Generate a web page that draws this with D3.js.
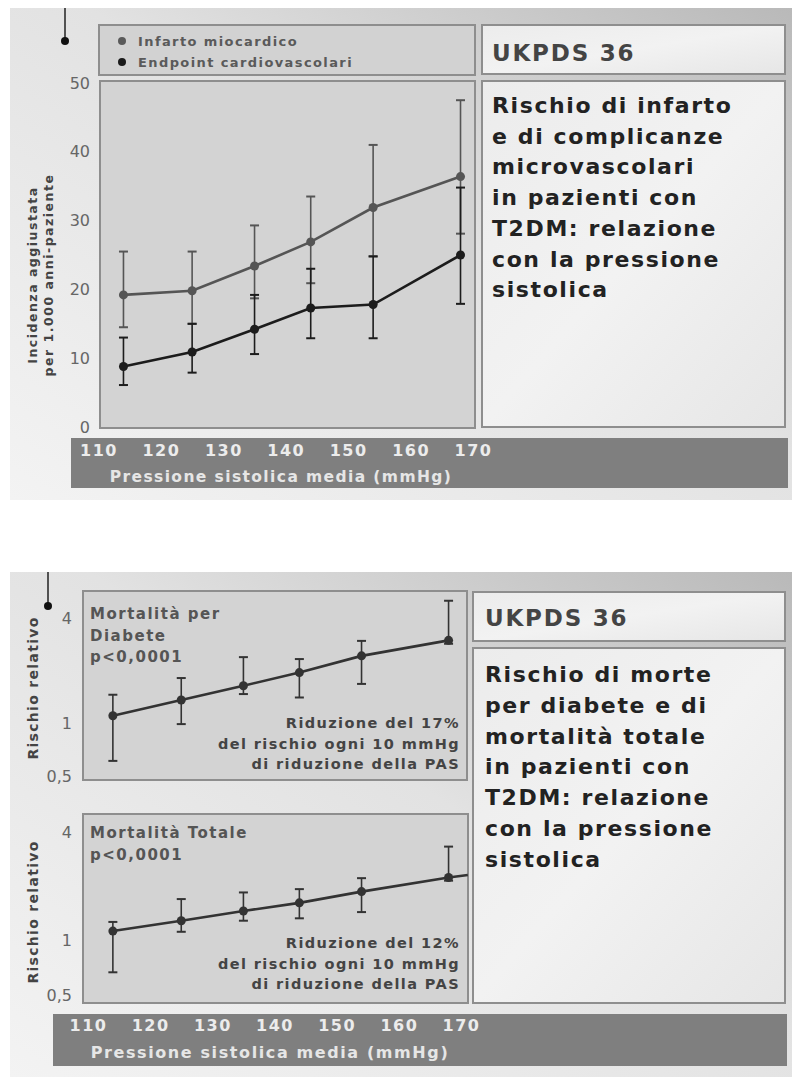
<!DOCTYPE html>
<html>
<head>
<meta charset="utf-8">
<script src="https://cdn.jsdelivr.net/npm/d3@7"></script>
<style>
  body { margin: 0; background: #fff; }
  svg { display: block; font-family: "DejaVu Sans", Verdana, sans-serif; }
</style>
</head>
<body>
<svg id="chart" width="792" height="1077"></svg>
<script>
// ---------------- DATA ----------------
const sbpMeans = [114, 125, 135, 144, 154, 168];
const xTicks = [110, 120, 130, 140, 150, 160, 170];
const yTicksTop = [0, 10, 20, 30, 40, 50];

const seriesNames = ["Infarto miocardico", "Endpoint cardiovascolari"];
const infartoVal = [19.2, 19.8, 23.4, 26.9, 31.9, 36.4];
const infartoLo  = [14.5, 15.0, 18.7, 20.9, 24.8, 28.1];
const infartoHi  = [25.5, 25.5, 29.3, 33.5, 41.0, 47.5];
const endpointVal = [8.8, 10.9, 14.2, 17.3, 17.8, 25.0];
const endpointLo  = [6.1, 7.9, 10.6, 12.9, 12.9, 17.9];
const endpointHi  = [13.0, 15.0, 19.2, 23.0, 24.8, 34.8];

const rrTicks = [0.5, 1, 4];
const rrTickLabels = ["0,5", "1", "4"];
const diabVal = [1.105, 1.36, 1.64, 1.95, 2.43, 2.98];
const diabLo  = [0.61, 0.99, 1.47, 1.405, 1.68, 2.85];
const diabHi  = [1.457, 1.815, 2.39, 2.33, 2.96, 5.02];
const totVal = [1.13, 1.29, 1.46, 1.62, 1.87, 2.24];
const totLo  = [0.668, 1.12, 1.29, 1.33, 1.44, 2.15];
const totHi  = [1.27, 1.70, 1.85, 1.93, 2.22, 3.32];
const totTrendEnd = [171.1, 2.31];

const xTitle = "Pressione sistolica media (mmHg)";
const yTitleTop = ["Incidenza aggiustata", "per 1.000 anni-paziente"];
const yTitleBottom = "Rischio relativo";
const studyLabel = "UKPDS 36";
const topDesc = ["Rischio di infarto", "e di complicanze", "microvascolari", "in pazienti con", "T2DM: relazione", "con la pressione", "sistolica"];
const bottomDesc = ["Rischio di morte", "per diabete e di", "mortalità totale", "in pazienti con", "T2DM: relazione", "con la pressione", "sistolica"];
const diabLabel = ["Mortalità per", "Diabete", "p<0,0001"];
const totLabel = ["Mortalità Totale", "p<0,0001"];
const diabNote = ["Riduzione del 17%", "del rischio ogni 10 mmHg", "di riduzione della PAS"];
const totNote = ["Riduzione del 12%", "del rischio ogni 10 mmHg", "di riduzione della PAS"];

// ---------------- DRAW ----------------
const svg = d3.select("#chart");
const defs = svg.append("defs");

const bgGrad = defs.append("linearGradient").attr("id", "bg")
  .attr("x1", "0").attr("y1", "1").attr("x2", "1").attr("y2", "0");
bgGrad.append("stop").attr("offset", "0%").attr("stop-color", "#f3f3f3");
bgGrad.append("stop").attr("offset", "55%").attr("stop-color", "#e2e2e2");
bgGrad.append("stop").attr("offset", "100%").attr("stop-color", "#b9b9b9");

const boxGrad = defs.append("linearGradient").attr("id", "box")
  .attr("x1", "0").attr("y1", "0").attr("x2", "1").attr("y2", "1");
boxGrad.append("stop").attr("offset", "0%").attr("stop-color", "#ececec");
boxGrad.append("stop").attr("offset", "50%").attr("stop-color", "#f2f2f2");
boxGrad.append("stop").attr("offset", "100%").attr("stop-color", "#e6e6e6");

function rect(x, y, w, h, fill, stroke, sw) {
  return svg.append("rect").attr("x", x).attr("y", y).attr("width", w).attr("height", h)
    .attr("fill", fill).attr("stroke", stroke || "none").attr("stroke-width", sw || 0);
}

// backgrounds
rect(10, 8, 782, 492, "url(#bg)");
rect(10, 572, 782, 505, "url(#bg)");

// decorative marker lines
function marker(x, y0, y1) {
  svg.append("line").attr("x1", x).attr("x2", x).attr("y1", y0).attr("y2", y1)
    .attr("stroke", "#222").attr("stroke-width", 1.5);
  svg.append("circle").attr("cx", x).attr("cy", y1).attr("r", 4).attr("fill", "#111");
}
marker(65, 8, 41);
marker(48, 572, 606);

// ---------- TOP CHART ----------
const xTop = d3.scaleLinear().domain([110, 170]).range([98.5, 473]);
const yTop = d3.scaleLinear().domain([0, 50]).range([427, 83]);

// legend box
rect(99, 25, 376, 50, "#d2d2d2", "#8e8e8e", 2);
const legColors = ["#5a5a5a", "#1a1a1a"];
seriesNames.forEach((n, i) => {
  svg.append("circle").attr("cx", 122).attr("cy", 41 + i * 21).attr("r", 4).attr("fill", legColors[i]);
  svg.append("text").attr("x", 138).attr("y", 46 + i * 21).text(n)
    .attr("font-size", 13).attr("letter-spacing", 1.4).attr("font-weight", "bold").attr("fill", "#5a5a5a");
});

// plot box
rect(100, 81, 375, 347, "#d3d3d3", "#8e8e8e", 2);

// right boxes
rect(482, 25, 303, 49, "url(#box)", "#8e8e8e", 2);
rect(482, 81, 303, 346, "url(#box)", "#8e8e8e", 2);
svg.append("text").attr("x", 492).attr("y", 61).text(studyLabel)
  .attr("font-size", 23).attr("letter-spacing", 1.8).attr("font-weight", "bold").attr("fill", "#444");
svg.append("g").selectAll("text").data(topDesc).join("text")
  .attr("x", 492).attr("y", (d, i) => 113 + i * 30.7).text(d => d)
  .attr("font-size", 22).attr("letter-spacing", 1.6).attr("font-weight", "bold").attr("fill", "#222");

// y axis
const yAxTop = svg.append("g").attr("transform", "translate(90,0)")
  .call(d3.axisLeft(yTop).tickValues(yTicksTop).tickSize(0).tickPadding(0));
yAxTop.select(".domain").remove();
yAxTop.selectAll("text").attr("font-size", 16).attr("fill", "#666")
  .attr("font-family", "DejaVu Sans, sans-serif");

// y title
yTitleTop.forEach((t, i) => {
  svg.append("text").attr("transform", `translate(${37 + i * 16},275) rotate(-90)`)
    .attr("text-anchor", "middle").text(t)
    .attr("font-size", 12.5).attr("letter-spacing", 1.5).attr("font-weight", "bold").attr("fill", "#444");
});

// x bar
rect(71, 438, 717, 50, "#7f7f7f");
const xAxTop = svg.append("g").attr("transform", "translate(0,445)")
  .call(d3.axisBottom(xTop).tickValues(xTicks).tickSize(0).tickPadding(0));
xAxTop.select(".domain").remove();
xAxTop.selectAll("text").attr("font-size", 16).attr("letter-spacing", 1.5).attr("font-weight", "bold").attr("fill", "#ececec")
  .attr("font-family", "DejaVu Sans, sans-serif");
svg.append("text").attr("x", 281).attr("y", 482).attr("text-anchor", "middle").text(xTitle)
  .attr("font-size", 15.5).attr("letter-spacing", 1.4).attr("font-weight", "bold").attr("fill", "#e6e6e6");

function drawSeries(g, xs, ys, vals, lo, hi, color, lineExtra) {
  const pts = vals.map((v, i) => [sbpMeans[i], v]);
  // error bars
  vals.forEach((v, i) => {
    const cx = xs(sbpMeans[i]);
    g.append("line").attr("x1", cx).attr("x2", cx).attr("y1", ys(lo[i])).attr("y2", ys(hi[i]))
      .attr("stroke", color).attr("stroke-width", 1.6);
    [lo[i], hi[i]].forEach(b => {
      g.append("line").attr("x1", cx - 4.5).attr("x2", cx + 4.5).attr("y1", ys(b)).attr("y2", ys(b))
        .attr("stroke", color).attr("stroke-width", 2);
    });
  });
  const linePts = lineExtra ? pts.concat([lineExtra]) : pts;
  g.append("path").datum(linePts)
    .attr("d", d3.line().x(d => xs(d[0])).y(d => ys(d[1])))
    .attr("fill", "none").attr("stroke", color).attr("stroke-width", 2.6);
  g.selectAll(null).data(pts).join("circle")
    .attr("cx", d => xs(d[0])).attr("cy", d => ys(d[1])).attr("r", 4.5).attr("fill", color);
}

const gTop = svg.append("g");
drawSeries(gTop, xTop, yTop, infartoVal, infartoLo, infartoHi, "#555555");
drawSeries(gTop, xTop, yTop, endpointVal, endpointLo, endpointHi, "#1c1c1c");

// ---------- BOTTOM CHART ----------
const xBot = d3.scaleLinear().domain([110, 170]).range([88, 461]);
const yDiab = d3.scaleLog().domain([0.5, 4]).range([776, 618]);
const yTot = d3.scaleLog().domain([0.5, 4]).range([995, 832]);

rect(83, 591, 384, 189, "#d3d3d3", "#8e8e8e", 2);
rect(83, 814, 385, 189, "#d3d3d3", "#8e8e8e", 2);

rect(473, 592, 312, 49, "url(#box)", "#8e8e8e", 2);
rect(473, 648, 312, 355, "url(#box)", "#8e8e8e", 2);
svg.append("text").attr("x", 485).attr("y", 626).text(studyLabel)
  .attr("font-size", 23).attr("letter-spacing", 1.8).attr("font-weight", "bold").attr("fill", "#444");
svg.append("g").selectAll("text").data(bottomDesc).join("text")
  .attr("x", 485).attr("y", (d, i) => 682 + i * 30.8).text(d => d)
  .attr("font-size", 22).attr("letter-spacing", 1.6).attr("font-weight", "bold").attr("fill", "#222");

function rrAxis(ys) {
  const g = svg.append("g").attr("transform", "translate(72,0)")
    .call(d3.axisLeft(ys).tickValues(rrTicks).tickFormat((d, i) => rrTickLabels[i]).tickSize(0).tickPadding(0));
  g.select(".domain").remove();
  g.selectAll("text").attr("font-size", 16).attr("fill", "#666")
    .attr("font-family", "DejaVu Sans, sans-serif");
}
rrAxis(yDiab);
rrAxis(yTot);

[[688], [912]].forEach(([cy]) => {
  svg.append("text").attr("transform", `translate(38,${cy}) rotate(-90)`)
    .attr("text-anchor", "middle").text(yTitleBottom)
    .attr("font-size", 14).attr("letter-spacing", 1.3).attr("font-weight", "bold").attr("fill", "#444");
});

function panelLabels(lines, y0) {
  svg.append("g").selectAll("text").data(lines).join("text")
    .attr("x", 90).attr("y", (d, i) => y0 + i * 21.5).text(d => d)
    .attr("font-size", 15).attr("letter-spacing", 1.5).attr("font-weight", "bold").attr("fill", "#555");
}
panelLabels(diabLabel, 619);
panelLabels(totLabel, 838);

function notes(lines, y0) {
  svg.append("g").selectAll("text").data(lines).join("text")
    .attr("x", 460).attr("y", (d, i) => y0 + i * 20.5).attr("text-anchor", "end").text(d => d)
    .attr("font-size", 14.5).attr("letter-spacing", 1.4).attr("font-weight", "bold").attr("fill", "#444");
}
notes(diabNote, 728);
notes(totNote, 948);

const gDiab = svg.append("g");
drawSeries(gDiab, xBot, yDiab, diabVal, diabLo, diabHi, "#333333");
const gTot = svg.append("g");
drawSeries(gTot, xBot, yTot, totVal, totLo, totHi, "#333333", totTrendEnd);

// bottom x bar
rect(53, 1014, 734, 52, "#7f7f7f");
const xAxBot = svg.append("g").attr("transform", "translate(0,1020)")
  .call(d3.axisBottom(xBot).tickValues(xTicks).tickSize(0).tickPadding(0));
xAxBot.select(".domain").remove();
xAxBot.selectAll("text").attr("font-size", 16).attr("letter-spacing", 1.5).attr("font-weight", "bold").attr("fill", "#ececec")
  .attr("font-family", "DejaVu Sans, sans-serif");
svg.append("text").attr("x", 270).attr("y", 1058).attr("text-anchor", "middle").text(xTitle)
  .attr("font-size", 16).attr("letter-spacing", 1.6).attr("font-weight", "bold").attr("fill", "#e6e6e6");
</script>
</body>
</html>
